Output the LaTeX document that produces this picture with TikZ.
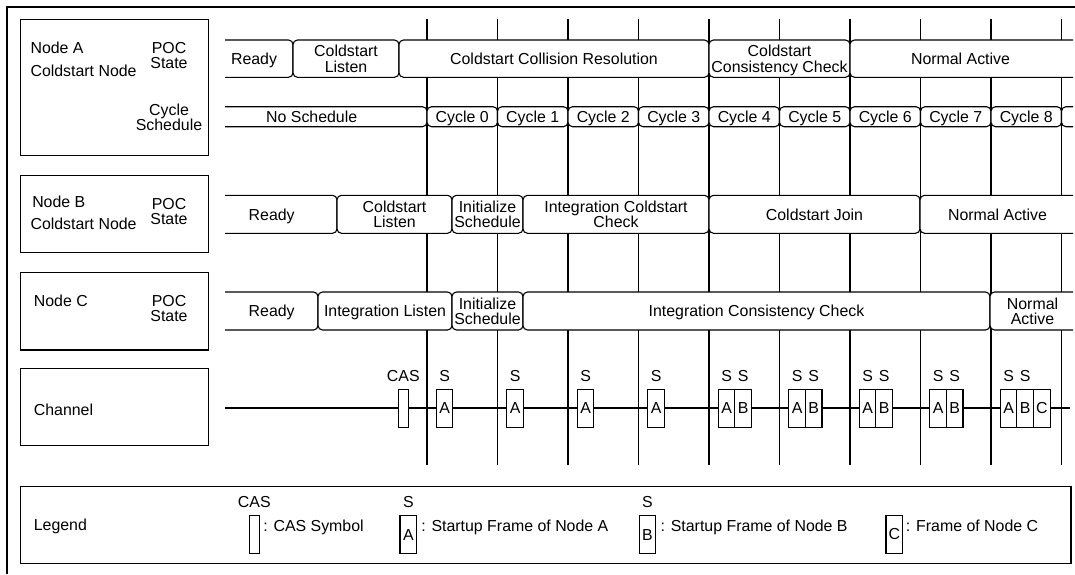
\documentclass[tikz,border=0pt]{standalone}
\usepackage{fontspec}
\setmainfont{Liberation Sans}
\usetikzlibrary{positioning}

\begin{document}
\begin{tikzpicture}[x=1pt,y=-1pt,line width=1.1pt,
    font=\fontsize{15.9}{15.5}\selectfont,
    segline/.style={draw,fill=white,rounded corners=4.5pt},
    seg/.style={draw,fill=white,rounded corners=4.5pt,inner sep=0pt,outer sep=0pt,
      align=center,text depth=0pt},
    segtext/.style={inner sep=0pt,align=center,text depth=0pt},
    frm/.style={draw,fill=white,inner sep=0pt,outer sep=0pt,
      minimum width=16.6pt,minimum height=38pt},
    casfrm/.style={draw,fill=white,inner sep=0pt,outer sep=0pt,
      minimum width=10pt,minimum height=38pt},
    lbl/.style={inner sep=0pt,text depth=0pt}]
    \useasboundingbox (0,0) rectangle (1075,574);
    \draw[line width=2pt] (1075,6.8) -- (6.8,6.8) -- (6.8,574);

    % left panels
    \draw (20.7,19.3) rectangle (208.3,155.7);
    \node[lbl,anchor=base west] (nA) at (30,53.3) {Node A};
    \node[lbl,anchor=base west] (nAc) at (30,76) {Coldstart Node};
    \node[lbl,align=center] (pocA) at (169,55.3) {POC\\State};
    \node[lbl,align=center] (schA) at (169,117.2) {Cycle\\Schedule};

    \draw (20.7,175.3) rectangle (208.3,252.7);
    \node[lbl,anchor=base west] (nB) at (31.7,207.3) {Node B};
    \node[lbl,anchor=base west] (nBc) at (30,229.3) {Coldstart Node};
    \node[lbl,align=center] (pocB) at (169,211.2) {POC\\State};

    \draw (20.7,272.7) rectangle (208.3,350);
    \node[lbl,anchor=base west] (nC) at (33.3,306) {Node C};
    \node[lbl,align=center] (pocC) at (169,308.3) {POC\\State};

    \draw (20.7,368.3) rectangle (208.3,445.7);
    \node[lbl,anchor=base west] (chn) at (33.3,415) {Channel};

    % cycle grid
    \foreach \i in {0,...,9}
      \draw ({427+70.5*\i},19.3) -- ({427+70.5*\i},465);

    % node A: POC state
    \draw[segline] (225,40) -| (293,77.3) -- (225,77.3);
    \node[segtext] (pa1) at (254,58.65) {Ready};
    \node[seg,minimum width=106pt,minimum height=37.3pt] (pa2) at (346,58.65) {Coldstart\\Listen};
    \node[seg,minimum width=310pt,minimum height=37.3pt] (pa3) at (554,58.65) {Coldstart Collision Resolution};
    \node[seg,minimum width=141pt,minimum height=37.3pt] (pa4) at (779.5,58.65) {Coldstart\\Consistency Check};
    \draw[segline] (1073,40) -| (850,77.3) -- (1073,77.3);
    \node[segtext] (pa5) at (960.5,58.65) {Normal Active};

    % node A: cycle schedule
    \draw[segline] (225,106.7) -| (427,126.7) -- (225,126.7);
    \node[segtext] (nosch) at (311.7,116.7) {No Schedule};
    \foreach \i in {0,...,8}
      \node[seg,minimum width=70.5pt,minimum height=20pt] (cyc\i) at ({462.25+70.5*\i},116.7) {Cycle \i};
    \draw[segline] (1073,106.7) -| (1061.5,126.7) -- (1073,126.7);

    % node B: POC state
    \draw[segline] (225,195.3) -| (337,233.3) -- (225,233.3);
    \node[segtext] (pb1) at (271.7,214.3) {Ready};
    \node[seg,minimum width=115pt,minimum height=38pt] (pb2) at (394.5,214.3) {Coldstart\\Listen};
    \node[seg,minimum width=71pt,minimum height=38pt] (pb3) at (487.5,214.3) {Initialize\\Schedule};
    \node[seg,minimum width=186pt,minimum height=38pt] (pb4) at (616,214.3) {Integration Coldstart\\Check};
    \node[seg,minimum width=211pt,minimum height=38pt] (pb5) at (814.5,214.3) {Coldstart Join};
    \draw[segline] (1073,195.3) -| (920,233.3) -- (1073,233.3);
    \node[segtext] (pb6) at (997.5,214.3) {Normal Active};

    % node C: POC state
    \draw[segline] (225,292) -| (318,330) -- (225,330);
    \node[segtext] (pc1) at (271.7,311) {Ready};
    \node[seg,minimum width=134pt,minimum height=38pt] (pc2) at (385,311) {Integration Listen};
    \node[seg,minimum width=71pt,minimum height=38pt] (pc3) at (487.5,311) {Initialize\\Schedule};
    \node[seg,minimum width=467pt,minimum height=38pt] (pc4) at (756.5,311) {Integration Consistency Check};
    \draw[segline] (1073,292) -| (990,330) -- (1073,330);
    \node[segtext] (pc5) at (1032.5,311) {Normal\\Active};

    % channel
    \coordinate (chL) at (225,408);
    \coordinate (chR) at (1070,408);
    \draw (chL) -- (chR);
    \node[casfrm] (cas) at (403.3,408.5) {};
    \node[lbl,above=7pt of cas] (casl) {CAS};
    \foreach \i in {0,...,8} {
      \node[frm] (fA\i) at ({444.6+70.5*\i},408.5) {A};
      \node[lbl,above=7pt of fA\i] (sA\i) {S};
    }
    \foreach \i in {4,...,8} {
      \node[frm,right=0pt of fA\i] (fB\i) {B};
      \node[lbl] (sB\i) at (fB\i |- sA\i) {S};
    }
    \node[frm,right=0pt of fB8] (fC8) {C};

    % legend
    \draw (20.7,486.5) rectangle (1071,563.3);
    \node[lbl,anchor=base west] (leg) at (33.3,530.7) {Legend};
    \node[casfrm] (lcas) at (254.3,534.8) {};
    \node[lbl,above=7.5pt of lcas] (lcasl) {CAS};
    \node[lbl,anchor=west] (lcast) at (262.7,525.5) {: CAS Symbol};
    \node[frm] (lA) at (408.3,534.7) {A};
    \node[lbl,above=7.5pt of lA] (lAs) {S};
    \node[lbl,anchor=west] (lAt) at (420.7,525.5) {: Startup Frame of Node A};
    \node[frm] (lB) at (647.5,534.7) {B};
    \node[lbl,above=7.5pt of lB] (lBs) {S};
    \node[lbl,anchor=west] (lBt) at (660,525.5) {: Startup Frame of Node B};
    \node[frm] (lC) at (894.3,534.5) {C};
    \node[lbl,anchor=west] (lCt) at (905.3,525.5) {: Frame of Node C};
  \end{tikzpicture}
\end{document}
